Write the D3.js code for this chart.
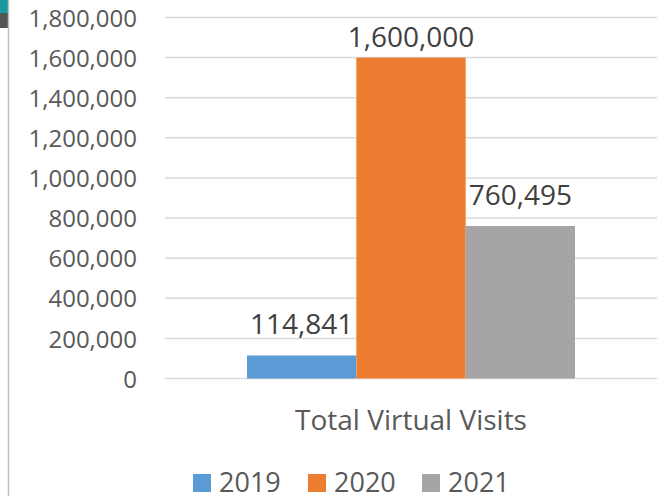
<!DOCTYPE html>
<html>
<head>
<meta charset="utf-8">
<script src="https://cdn.jsdelivr.net/npm/d3@7"></script>
<style>
  body { margin: 0; background: #fff; }
  svg text { font-family: "Open Sans", sans-serif; }
</style>
</head>
<body>
<div id="chart"></div>
<script>
// data
var category = "Total Virtual Visits";
var years = ["2019", "2020", "2021"];
var visits = [114841, 1600000, 760495];
var yTicks = [0, 200000, 400000, 600000, 800000, 1000000, 1200000, 1400000, 1600000, 1800000];
var colors = ["#5b9bd5", "#ed7d31", "#a5a5a5"];

var width = 667, height = 496;
var plotLeft = 165, plotRight = 657, plotTop = 17.5, plotBottom = 378.5;

var svg = d3.select("#chart").append("svg")
    .attr("width", width)
    .attr("height", height);

// bits of the page edge that show in the screenshot
svg.append("rect").attr("x", 0).attr("y", 0).attr("width", 8).attr("height", 13).attr("fill", "#1a9aa0");
svg.append("rect").attr("x", 0).attr("y", 13).attr("width", 8).attr("height", 15).attr("fill", "#555555");
svg.append("line").attr("x1", 8.5).attr("x2", 8.5).attr("y1", 0).attr("y2", height)
    .attr("stroke", "#c0c0c0").attr("stroke-width", 1.5);

var y = d3.scaleLinear().domain([0, 1800000]).range([plotBottom, plotTop]);

var x0 = d3.scaleBand().domain([category]).range([plotLeft, plotRight]);
var x1 = d3.scaleBand().domain(years).range([0, x0.bandwidth()])
    .paddingInner(0).paddingOuter(0.75);

// gridlines
svg.append("g").selectAll("line")
    .data(yTicks)
    .join("line")
    .attr("x1", plotLeft).attr("x2", plotRight)
    .attr("y1", function(d) { return y(d); })
    .attr("y2", function(d) { return y(d); })
    .attr("stroke", "#d9d9d9")
    .attr("stroke-width", 1.5);

// y axis labels
var yAxis = d3.axisLeft(y).tickValues(yTicks).tickSize(0).tickPadding(0)
    .tickFormat(d3.format(","));
var gy = svg.append("g").attr("transform", "translate(137,0)").call(yAxis);
gy.select(".domain").remove();
gy.selectAll("text")
    .attr("fill", "#595959")
    .style("font-size", "24px")
    .attr("dy", "0.36em");

// bars
var bars = svg.append("g").attr("transform", "translate(" + x0(category) + ",0)");
bars.selectAll("rect")
    .data(visits)
    .join("rect")
    .attr("x", function(d, i) { return x1(years[i]); })
    .attr("y", function(d) { return y(d); })
    .attr("width", x1.bandwidth())
    .attr("height", function(d) { return plotBottom - y(d); })
    .attr("fill", function(d, i) { return colors[i]; });

// data labels (the tallest one is kept inside the top of the plot)
bars.selectAll("text")
    .data(visits)
    .join("text")
    .attr("x", function(d, i) { return x1(years[i]) + x1.bandwidth() / 2; })
    .attr("y", function(d) { return Math.max(y(d) - 21, plotTop + 29); })
    .attr("text-anchor", "middle")
    .attr("fill", "#404040")
    .style("font-size", "28px")
    .text(function(d) { return d3.format(",")(d); });

// category label
svg.append("text")
    .attr("x", x0(category) + x0.bandwidth() / 2)
    .attr("y", 430)
    .attr("text-anchor", "middle")
    .attr("fill", "#595959")
    .style("font-size", "28px")
    .text(category);

// legend
var legendX = [193, 308, 422];
var legend = svg.append("g").selectAll("g")
    .data(years)
    .join("g")
    .attr("transform", function(d, i) { return "translate(" + legendX[i] + ",474)"; });
legend.append("rect")
    .attr("width", 18).attr("height", 18)
    .attr("fill", function(d, i) { return colors[i]; });
legend.append("text")
    .attr("x", 26)
    .attr("y", 18)
    .attr("fill", "#595959")
    .style("font-size", "27px")
    .text(function(d) { return d; });
</script>
</body>
</html>
